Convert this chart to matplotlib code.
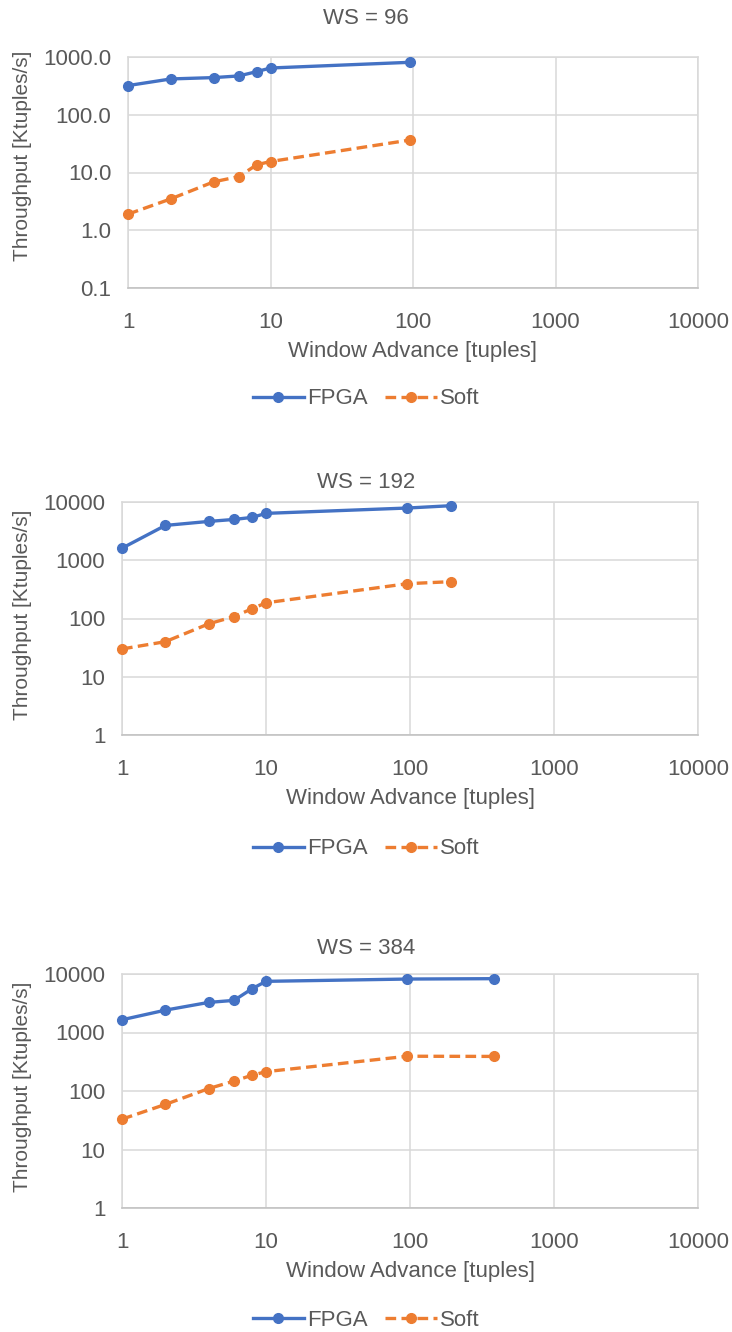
import matplotlib
matplotlib.use('Agg')
import matplotlib.pyplot as plt
from matplotlib.ticker import FixedLocator, FixedFormatter, NullLocator

plt.rcParams['font.family'] = ['Liberation Sans', 'DejaVu Sans']

GRAY_TEXT = '#595959'
GRID = '#D9D9D9'
BLUE = '#4472C4'
ORANGE = '#ED7D31'
FS = 16

# ── data ──────────────────────────────────────────────────
titles = ['WS = 96', 'WS = 192', 'WS = 384']

advance_96 = [1, 2, 4, 6, 8, 10, 96]
fpga_96 = [320, 417, 440, 470, 558, 645, 810]
soft_96 = [1.9, 3.5, 6.9, 8.5, 13.6, 15.5, 36.6]

advance_192 = [1, 2, 4, 6, 8, 10, 96, 192]
fpga_192 = [1610, 3960, 4640, 5020, 5440, 6380, 7880, 8640]
soft_192 = [30, 40, 81, 108, 147, 186, 396, 429]

advance_384 = [1, 2, 4, 6, 8, 10, 96, 384]
fpga_384 = [1650, 2410, 3270, 3540, 5600, 7490, 8200, 8320]
soft_384 = [33, 59, 110, 148, 186, 214, 393, 390]

x_ticks = [1, 10, 100, 1000, 10000]
x_labels = ['1', '10', '100', '1000', '10000']
y_ticks_top = [0.1, 1, 10, 100, 1000]
y_labels_top = ['0.1', '1.0', '10.0', '100.0', '1000.0']
y_ticks = [1, 10, 100, 1000, 10000]
y_labels = ['1', '10', '100', '1000', '10000']

series = [
    (advance_96, fpga_96, soft_96, y_ticks_top, y_labels_top),
    (advance_192, fpga_192, soft_192, y_ticks, y_labels),
    (advance_384, fpga_384, soft_384, y_ticks, y_labels),
]

# axes rectangles in figure fractions (left, bottom, width, height)
W, H = 732, 1332
boxes = [
    (128 / W, (H - 288) / H, 570 / W, 231 / H),
    (122 / W, (H - 735) / H, 576 / W, 233 / H),
    (122 / W, (H - 1208) / H, 576 / W, 234 / H),
]
legend_y = [399, 849, 1320]
title_y = [19, 483, 948]
ylabel_pos = [0.571, 0.515, 0.517]

fig = plt.figure(figsize=(W / 100, H / 100), dpi=100)

for i, (adv, fpga, soft, yt, yl) in enumerate(series):
    ax = fig.add_axes(boxes[i])
    ax.set_xscale('log')
    ax.set_yscale('log')
    ax.set_xlim(1, 10000)
    ax.set_ylim(yt[0], yt[-1])

    l1, = ax.plot(adv, fpga, color=BLUE, lw=2.4, marker='o', ms=7,
                  label='FPGA', zorder=3, clip_on=False)
    l2, = ax.plot(adv, soft, color=ORANGE, lw=2.4, ls=(0, (3.2, 1.6)),
                  marker='o', ms=7, label='Soft', zorder=3, clip_on=False)

    ax.xaxis.set_major_locator(FixedLocator(x_ticks))
    ax.xaxis.set_major_formatter(FixedFormatter(x_labels))
    ax.xaxis.set_minor_locator(NullLocator())
    ax.yaxis.set_major_locator(FixedLocator(yt))
    ax.yaxis.set_major_formatter(FixedFormatter(yl))
    ax.yaxis.set_minor_locator(NullLocator())

    ax.grid(True, color=GRID, lw=1.1)
    ax.set_axisbelow(True)
    for s in ax.spines.values():
        s.set_color(GRID)
        s.set_linewidth(1.1)
    ax.spines['bottom'].set_color('#BFBFBF')

    ax.tick_params(length=0, labelsize=FS, labelcolor=GRAY_TEXT)
    ax.tick_params(axis='x', pad=17)
    ax.tick_params(axis='y', pad=12)

    ax.set_xlabel('Window Advance [tuples]', fontsize=FS, color=GRAY_TEXT, labelpad=6)
    ax.set_ylabel('Throughput [Ktuples/s]', fontsize=15, color=GRAY_TEXT)
    ax.yaxis.set_label_coords((32 - 128) / 570 if i == 0 else (32 - 122) / 576,
                              ylabel_pos[i])

    fig.text(0.5, 1 - title_y[i] / H, titles[i], ha='center', va='center',
             fontsize=FS, color=GRAY_TEXT)

    fig.legend(handles=[l1, l2], loc='center', ncol=2, frameon=False,
               bbox_to_anchor=(0.5, 1 - legend_y[i] / H), fontsize=FS,
               handlelength=2.3, columnspacing=0.8, handletextpad=0.15,
               labelcolor=GRAY_TEXT)

fig.savefig('out.png', dpi=100)
